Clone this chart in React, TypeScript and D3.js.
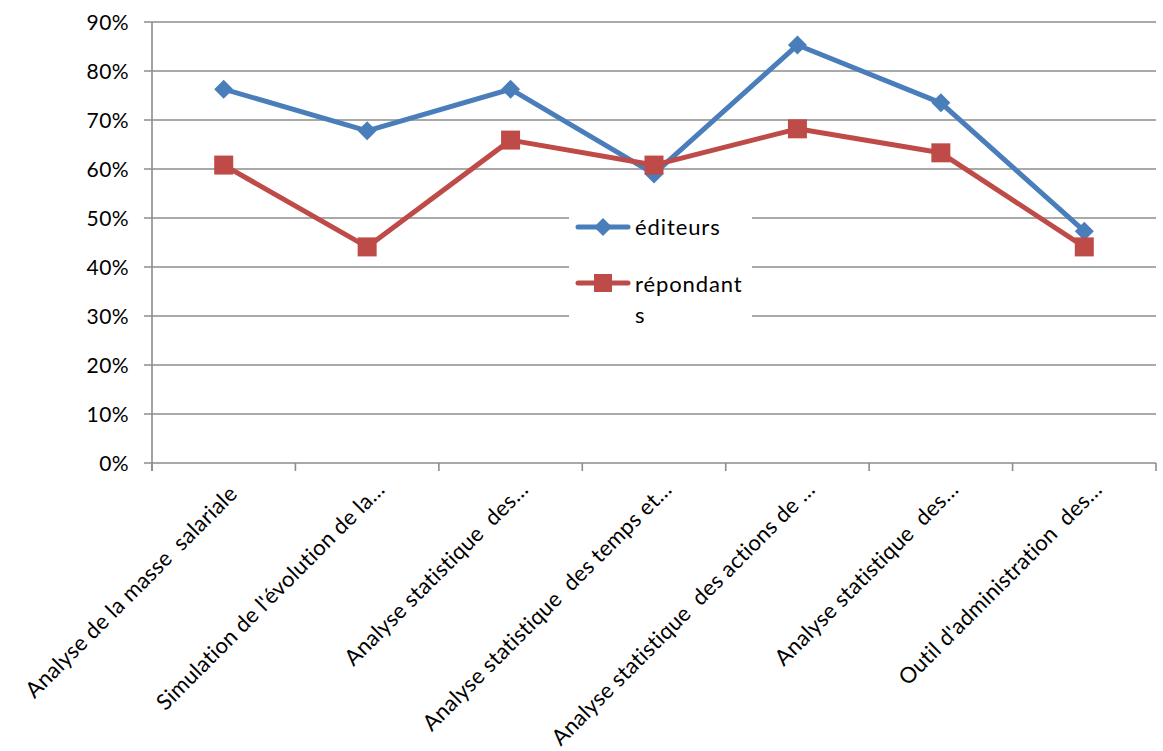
import React from "react";
import * as d3 from "d3";

const categories = [
  "Analyse de la masse  salariale ",
  "Simulation de l'évolution de la…",
  "Analyse statistique  des…",
  "Analyse statistique  des temps et…",
  "Analyse statistique  des actions de …",
  "Analyse statistique  des…",
  "Outil d'administration  des…",
];
const editeurs = [0.763, 0.678, 0.763, 0.59, 0.853, 0.735, 0.473];
const repondants = [0.608, 0.441, 0.659, 0.608, 0.682, 0.633, 0.441];
const yTicks = [0, 0.1, 0.2, 0.3, 0.4, 0.5, 0.6, 0.7, 0.8, 0.9];
const seriesNames = ["éditeurs", "répondant", "s"];

const W = 1163;
const H = 751;
const FONT = "Lato, 'Open Sans', sans-serif";
const BLUE = "#4A7EBB";
const RED = "#BE4B48";
const GRID = "#8c8c8c";

export default function App() {
  const idx = categories.map((_, i) => String(i));
  const x = d3.scaleBand<string>().domain(idx).range([152, 1156]);
  const y = d3.scaleLinear().domain([0, 0.9]).range([463, 22]);
  const cx = (i: number) => (x(String(i)) as number) + x.bandwidth() / 2;
  const line = d3
    .line<number>()
    .x((_, i) => cx(i))
    .y((d) => y(d));
  const fmt = d3.format(".0%");
  const boundaries = idx.map((k) => x(k) as number).concat([1156]);

  const diamond = (px: number, py: number, r: number) =>
    `M${px},${py - r}L${px + r},${py}L${px},${py + r}L${px - r},${py}Z`;

  return (
    <svg
      width={W}
      height={H}
      style={{ position: "absolute", left: 0, top: 0, background: "#fff" }}
      fontFamily={FONT}
    >
      {yTicks.map((t) => (
        <g key={t}>
          <line x1={144} x2={1156} y1={y(t)} y2={y(t)} stroke={GRID} strokeWidth={1.6} />
          <text x={129} y={y(t) + 8} textAnchor="end" fontSize={21} fill="#000" letterSpacing={0.4}>
            {fmt(t)}
          </text>
        </g>
      ))}
      <line x1={152} x2={152} y1={22} y2={471} stroke={GRID} strokeWidth={1.6} />
      {boundaries.map((b, i) => (
        <line key={i} x1={b} x2={b} y1={463} y2={471} stroke={GRID} strokeWidth={1.6} />
      ))}
      {categories.map((c, i) => (
        <text
          key={i}
          transform={`translate(${cx(i) + 19},${491}) rotate(-45)`}
          textAnchor="end"
          fontSize={22}
          fill="#000"
          letterSpacing={0.25}
          style={{ whiteSpace: "pre" }}
        >
          {c}
        </text>
      ))}
      {/* legend box */}
      <rect x={569} y={192} width={183} height={146} fill="#fff" />
      <path d={line(editeurs) || ""} fill="none" stroke={BLUE} strokeWidth={5} strokeLinejoin="round" />
      {editeurs.map((v, i) => (
        <path key={i} d={diamond(cx(i), y(v), 9.5)} fill={BLUE} />
      ))}
      <path d={line(repondants) || ""} fill="none" stroke={RED} strokeWidth={5} strokeLinejoin="round" />
      {repondants.map((v, i) => (
        <rect key={i} x={cx(i) - 9.5} y={y(v) - 9.5} width={19} height={19} fill={RED} />
      ))}
      {/* legend entries */}
      <line x1={578} x2={628} y1={227} y2={227} stroke={BLUE} strokeWidth={5} strokeLinecap="round" />
      <path d={diamond(603, 227, 9)} fill={BLUE} />
      <text x={635} y={235} fontSize={22} fill="#000" letterSpacing={0.9}>
        {seriesNames[0]}
      </text>
      <line x1={578} x2={628} y1={283} y2={283} stroke={RED} strokeWidth={5} strokeLinecap="round" />
      <rect x={594} y={274} width={18} height={18} fill={RED} />
      <text x={635} y={292} fontSize={22} fill="#000" letterSpacing={0.9}>
        {seriesNames[1]}
      </text>
      <text x={635} y={323} fontSize={22} fill="#000" letterSpacing={0.9}>
        {seriesNames[2]}
      </text>
    </svg>
  );
}
